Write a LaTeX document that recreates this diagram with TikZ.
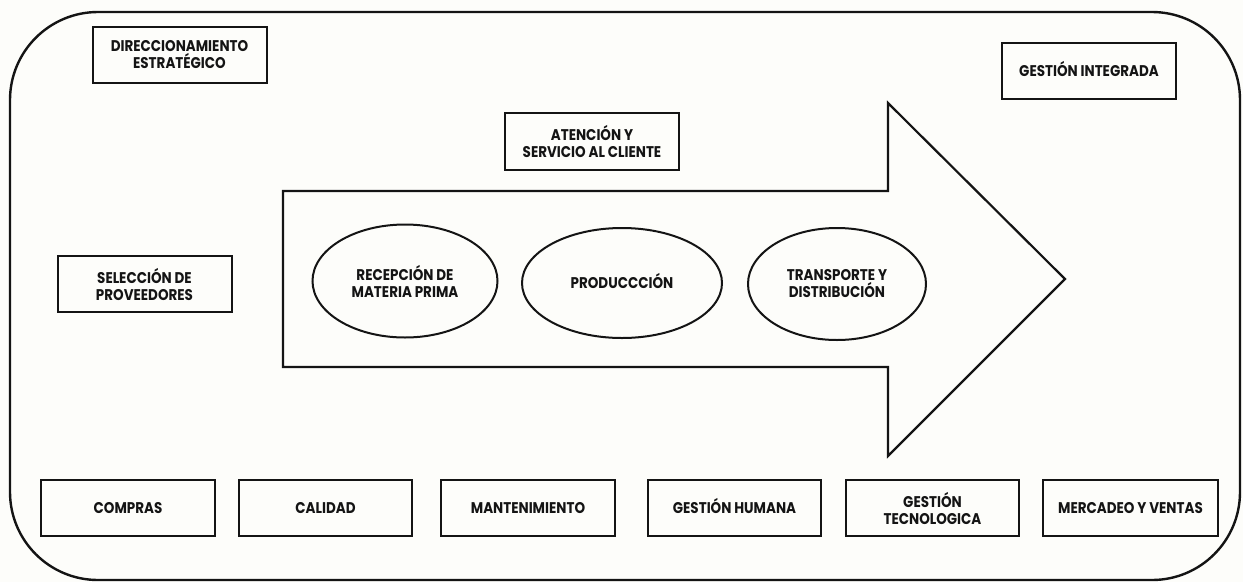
\documentclass[tikz,border=0pt]{standalone}
\usepackage{fontspec}
\setmainfont{Poppins}[FakeStretch=0.87]
\usetikzlibrary{shapes.geometric}
\definecolor{paper}{RGB}{253,253,250}
\definecolor{ink}{RGB}{20,20,20}
\tikzset{
  lbl/.style={font=\bfseries\fontsize{15.5}{17}\selectfont, text=ink, align=center, inner sep=0pt},
  oneline/.style={text height=11pt, text depth=0pt},
  procbox/.style={lbl, draw=ink, line width=2pt, rectangle, minimum width=174pt, minimum height=56pt},
  stage/.style={lbl, draw=ink, line width=2pt, ellipse, inner sep=0pt},
  frame/.style={draw=ink, line width=2.4pt, rounded corners=88pt},
  flow/.style={draw=ink, line width=2.2pt, line join=miter}
}
\begin{document}
\begin{tikzpicture}[x=1pt, y=-1pt]
  \fill[paper] (0,0) rectangle (1243,582);
  \useasboundingbox (0,0) rectangle (1243,582);

  % outer rounded frame
  \draw[frame] (10,12) rectangle (1240,580);

  % value-chain arrow
  \draw[flow] (283,191) -- (888,191) -- (888,103) -- (1065,279) -- (888,456) -- (888,367) -- (283,367) -- cycle;

  % strategic and support boxes
  \node[procbox] (dir) at (179.5,55) {DIRECCIONAMIENTO\\ESTRATÉGICO};
  \node[procbox, oneline] (gi) at (1089,71) {GESTIÓN INTEGRADA};
  \node[procbox, minimum height=57pt] (aten) at (592,141.5) {ATENCIÓN Y\\SERVICIO AL CLIENTE};
  \node[procbox] (sel) at (144.5,284) {SELECCIÓN DE\\PROVEEDORES};

  % core stages
  \node[stage, minimum width=185pt, minimum height=113pt] (rec) at (405,281) {RECEPCIÓN DE\\MATERIA PRIMA};
  \node[stage, oneline, minimum width=200pt, minimum height=110pt] (prod) at (622,283) {PRODUCCCIÓN};
  \node[stage, minimum width=178pt, minimum height=112pt] (trans) at (837,284) {TRANSPORTE Y\\DISTRIBUCIÓN};

  % bottom row of support areas
  \node[procbox, oneline] (comp) at (128,508) {COMPRAS};
  \node[procbox, oneline, minimum width=173pt] (cal) at (325.5,508) {CALIDAD};
  \node[procbox, oneline] (mant) at (528,508) {MANTENIMIENTO};
  \node[procbox, oneline, minimum width=173pt] (gh) at (734.5,508) {GESTIÓN HUMANA};
  \node[procbox, minimum width=173pt] (gt) at (932.5,508) {GESTIÓN\\TECNOLOGICA};
  \node[procbox, oneline, minimum width=175pt] (mv) at (1130.5,508) {MERCADEO Y VENTAS};
\end{tikzpicture}
\end{document}
